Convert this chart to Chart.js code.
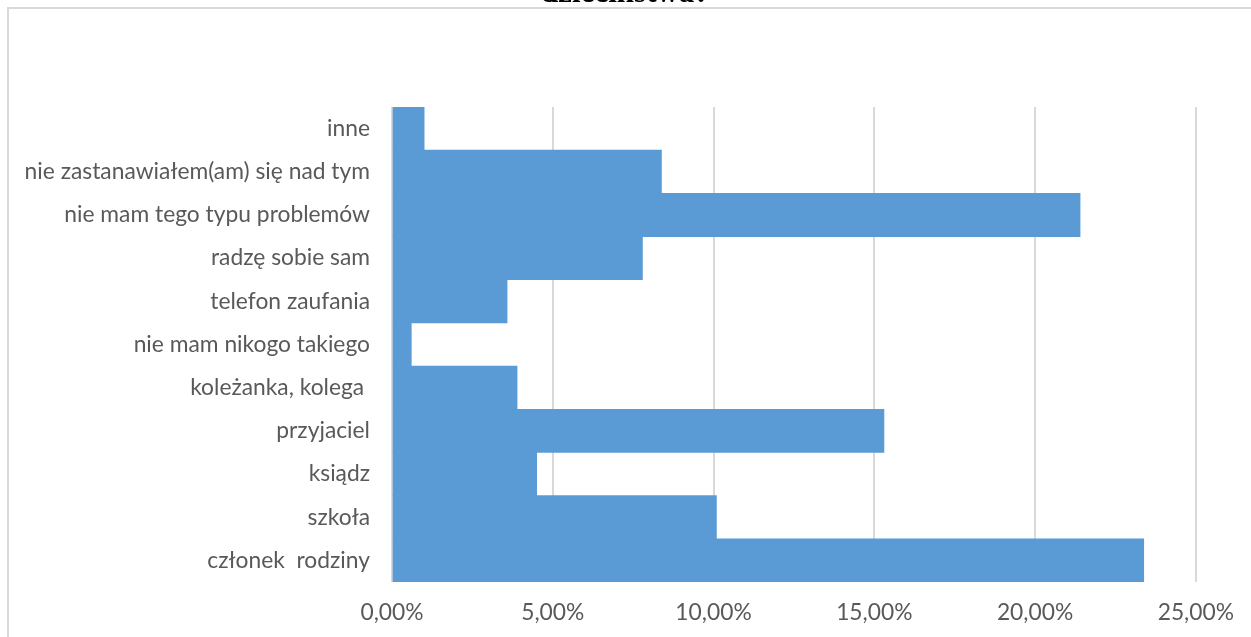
<!DOCTYPE html>
<html>
<head>
<meta charset="utf-8">
<script src="https://cdn.jsdelivr.net/npm/chart.js@4"></script>
<style>
  html, body { margin: 0; padding: 0; background: #fff; overflow: hidden; }
  #wrap { position: absolute; left: 0; top: 0; width: 1251px; height: 637px; overflow: hidden; }
  #frame { position: absolute; left: 7px; top: 7px; width: 1260px; height: 700px;
           border-left: 2px solid #d9d9d9; border-top: 2px solid #d9d9d9; box-sizing: border-box; }
  #title { position: absolute; left: 0; width: 1251px; top: -26px; text-align: center; line-height: 1;
           font: bold 31px "Liberation Serif", serif; color: #000; }
</style>
</head>
<body>
<div id="wrap">
  <div id="title">dzieciństwa?</div>
  <div id="frame"></div>
  <canvas id="chart" width="1251" height="637"></canvas>
</div>
<script>
// categories, top to bottom as in the picture
const categories = [
    "inne",
    "nie zastanawiałem(am) się nad tym",
    "nie mam tego typu problemów",
    "radzę sobie sam",
    "telefon zaufania",
    "nie mam nikogo takiego",
    "koleżanka, kolega ",
    "przyjaciel",
    "ksiądz",
    "szkoła",
    "członek  rodziny"
];

// share of answers, in percent
const shares = [1.0, 8.38, 21.4, 7.79, 3.58, 0.6, 3.89, 15.3, 4.5, 10.09, 23.38];

// x axis ticks
const xMin = 0;
const xMax = 25;
const xStep = 5;

const labelColor = "#595959";
const labelFont = { family: "Lato, 'Open Sans', sans-serif", size: 22.8 };

function formatPercent(value) {
    return value.toFixed(2).replace(".", ",") + "%";
}

const ctx = document.getElementById("chart").getContext("2d");

new Chart(ctx, {
    type: "bar",
    data: {
        labels: categories,
        datasets: [{
            data: shares,
            backgroundColor: "#5b9bd5",
            borderWidth: 0,
            barPercentage: 1.0,
            categoryPercentage: 1.0
        }]
    },
    options: {
        indexAxis: "y",
        responsive: false,
        animation: false,
        layout: {
            padding: { top: 107, right: 53, left: 0, bottom: 0 }
        },
        plugins: {
            legend: { display: false },
            tooltip: { enabled: false }
        },
        scales: {
            x: {
                min: xMin,
                max: xMax,
                ticks: {
                    stepSize: xStep,
                    color: labelColor,
                    font: labelFont,
                    padding: 17,
                    callback: function(value) { return formatPercent(value); }
                },
                grid: {
                    color: "#d9d9d9",
                    lineWidth: 2,
                    drawTicks: false
                },
                border: { display: false },
                afterFit: function(axis) { axis.height = 55; }
            },
            y: {
                ticks: {
                    color: labelColor,
                    font: labelFont,
                    padding: 22
                },
                grid: { display: false, drawTicks: false },
                border: { display: false },
                afterFit: function(axis) { axis.width = 392; }
            }
        }
    }
});
</script>
</body>
</html>
